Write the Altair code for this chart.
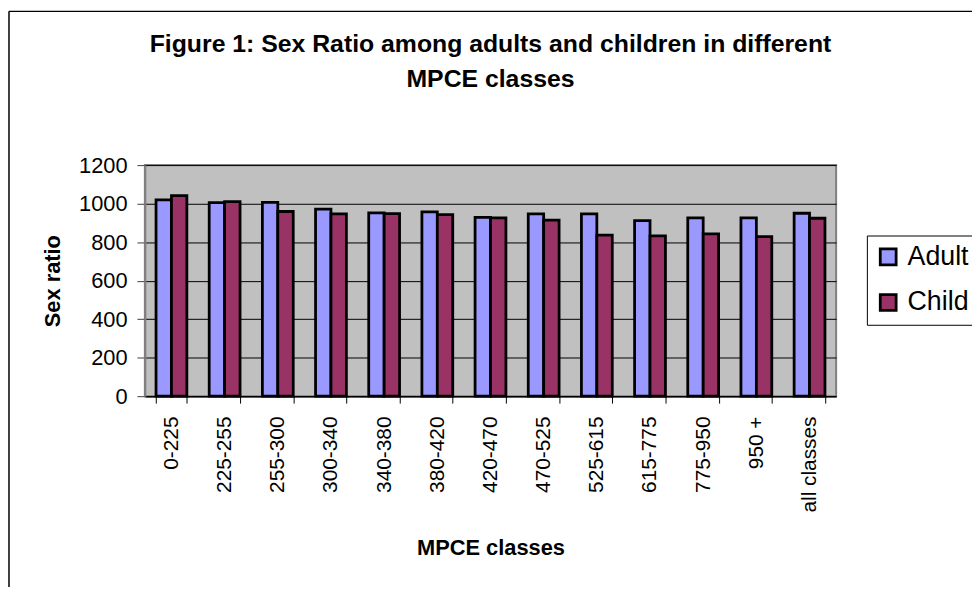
import altair as alt
import pandas as pd

classes = ["0-225", "225-255", "255-300", "300-340", "340-380", "380-420",
           "420-470", "470-525", "525-615", "615-775", "775-950", "950 +",
           "all classes"]
adult = [1019, 1005, 1007, 971, 952, 957, 928, 947, 947, 912, 926, 926, 950]
child = [1041, 1010, 959, 947, 948, 943, 926, 914, 836, 833, 843, 828, 924]
series = ["Adult", "Child"]
colors = ["#9999FF", "#993366"]
y_ticks = [0, 200, 400, 600, 800, 1000, 1200]

rows = []
for c, a, ch in zip(classes, adult, child):
    rows.append({"cls": c, "series": "Adult", "value": a})
    rows.append({"cls": c, "series": "Child", "value": ch})
df = pd.DataFrame(rows)

FONT = "Liberation Sans"
W, H = 697, 233

bars = alt.Chart(df).mark_bar(stroke="black", strokeWidth=2.8).encode(
    x=alt.X("cls:N", sort=classes,
            scale=alt.Scale(paddingInner=0.42, paddingOuter=0.21),
            axis=alt.Axis(title="MPCE classes", labelAngle=270, labelAlign="right",
                          labelBaseline="middle", labelFontSize=21, labelFont=FONT,
                          labelColor="black", labelPadding=13, tickSize=7,
                          tickBand="extent", tickColor="black", domainColor="black",
                          domainWidth=1.5, grid=False,
                          titleFont=FONT, titleFontSize=22, titleFontWeight="bold",
                          titleX=348.5, titleY=153, titleBaseline="middle",
                          titleAlign="center", titleColor="black")),
    xOffset=alt.XOffset("series:N", sort=series),
    y=alt.Y("value:Q", scale=alt.Scale(domain=[0, 1200], nice=False),
            axis=alt.Axis(title="Sex ratio", values=y_ticks, format="d",
                          labelFontSize=22,
                          labelFont=FONT, labelColor="black", labelPadding=10,
                          tickSize=8, tickColor="#404040", domainColor="#808080",
                          domainWidth=2, gridColor="black", gridWidth=1,
                          titleFont=FONT, titleFontSize=22, titleFontWeight="bold",
                          titleAngle=270, titleX=-93, titleY=116.5,
                          titleBaseline="middle", titleAlign="center",
                          titleColor="black")),
    color=alt.Color("series:N", sort=series,
                    scale=alt.Scale(domain=series, range=colors),
                    legend=alt.Legend(title=None, orient="none", legendX=728, legendY=71,
                                      labelFontSize=27, labelFont=FONT, labelColor="black",
                                      symbolType="square", symbolSize=256,
                                      symbolStrokeWidth=2.8, symbolStrokeColor="black",
                                      labelOffset=6, rowPadding=17, padding=8,
                                      strokeColor="black", fillColor="white")),
)

frame_df = pd.DataFrame({"k": [0]})
top_line = alt.Chart(frame_df).mark_rule(color="black", strokeWidth=1.5).encode(
    x=alt.value(-137), x2=alt.value(900), y=alt.value(-155))
left_line = alt.Chart(frame_df).mark_rule(color="black", strokeWidth=1.5).encode(
    x=alt.value(-137), y=alt.value(-155), y2=alt.value(500))

chart = alt.layer(bars, top_line, left_line).properties(
    width=W, height=H,
    autosize=alt.AutoSizeParams(type="none"),
    padding={"left": 138, "top": 156, "right": 137, "bottom": 190},
    background="white",
    title=alt.TitleParams(
        text=["Figure 1: Sex Ratio among adults and children in different", "MPCE classes"],
        font=FONT, fontSize=25, fontWeight="bold", color="black",
        anchor="middle", frame="group", offset=-82, lineHeight=35),
).configure_view(fill="#C0C0C0", stroke="#808080", strokeWidth=2)

chart.save("out.html", embed_options={"renderer": "svg", "actions": False})
